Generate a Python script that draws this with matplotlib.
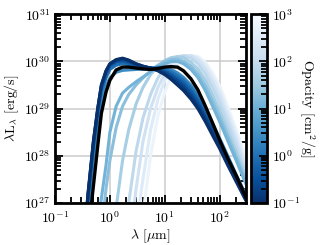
import numpy as np
import matplotlib
matplotlib.use("Agg")
import matplotlib.pyplot as plt
from matplotlib.colors import LogNorm
from matplotlib.cm import ScalarMappable

plt.rcParams['font.family'] = 'serif'
plt.rcParams['font.serif'] = ['cmr10', 'DejaVu Serif']
plt.rcParams['mathtext.fontset'] = 'cm'
plt.rcParams['axes.formatter.use_mathtext'] = True
plt.rcParams['font.size'] = 10

# wavelength grid (micron)
wavelength = [0.3, 0.4, 0.5, 0.6, 0.7, 0.85, 1.0, 1.3, 1.7, 2.2, 3.0, 4.0, 5.5, 7.5,
              10, 13, 17, 22, 30, 40, 55, 75, 100, 140, 200, 300]

# opacities (cm^2/g) of the coloured models
opacities = [0.1, 0.15, 0.25, 0.5, 1.0, 2.5, 12, 20, 40, 80, 150, 300, 600]

# log10(lambda L_lambda) [erg/s] for each model
logL_models = [
    [25.5, 27.2, 28.3, 29.0, 29.5, 29.8, 29.95, 30.04, 30.07, 30.03, 29.95, 29.9, 29.86, 29.8,
     29.72, 29.62, 29.5, 29.38, 29.2, 29.0, 28.72, 28.42, 28.15, 27.8, 27.45, 27.05],
    [25.5, 27.2, 28.3, 29.0, 29.5, 29.8, 29.95, 30.03, 30.06, 30.02, 29.95, 29.9, 29.86, 29.81,
     29.74, 29.65, 29.54, 29.42, 29.24, 29.04, 28.76, 28.46, 28.19, 27.83, 27.48, 27.07],
    [25.5, 27.15, 28.25, 28.97, 29.47, 29.77, 29.93, 30.01, 30.04, 30.0, 29.93, 29.89, 29.86, 29.83,
     29.77, 29.69, 29.59, 29.48, 29.3, 29.1, 28.82, 28.52, 28.24, 27.88, 27.52, 27.1],
    [25.4, 27.1, 28.2, 28.93, 29.43, 29.73, 29.9, 29.98, 30.0, 29.97, 29.91, 29.88, 29.86, 29.84,
     29.8, 29.73, 29.64, 29.54, 29.37, 29.17, 28.88, 28.57, 28.28, 27.92, 27.55, 27.12],
    [25.3, 27.0, 28.1, 28.85, 29.35, 29.65, 29.83, 29.92, 29.95, 29.93, 29.89, 29.87, 29.86, 29.86,
     29.83, 29.78, 29.7, 29.6, 29.44, 29.24, 28.95, 28.63, 28.33, 27.96, 27.58, 27.15],
    [25.0, 26.8, 27.9, 28.65, 29.15, 29.48, 29.65, 29.77, 29.81, 29.82, 29.83, 29.84, 29.86, 29.88,
     29.87, 29.83, 29.76, 29.66, 29.5, 29.3, 29.0, 28.68, 28.37, 28.0, 27.6, 27.17],
    [22.0, 24.2, 25.6, 26.5, 27.1, 27.8, 28.5, 29.05, 29.33, 29.45, 29.57, 29.67, 29.78, 29.88,
     29.95, 30.0, 30.0, 29.95, 29.83, 29.66, 29.38, 29.04, 28.72, 28.32, 27.9, 27.4],
    [21.0, 22.8, 24.3, 25.5, 26.4, 27.3, 27.9, 28.6, 29.05, 29.3, 29.5, 29.65, 29.8, 29.92,
     30.0, 30.04, 30.05, 30.0, 29.9, 29.74, 29.48, 29.15, 28.83, 28.42, 27.98, 27.47],
    [18.0, 20.0, 21.5, 22.7, 23.6, 24.6, 25.5, 26.9, 27.9, 28.55, 29.1, 29.45, 29.72, 29.9,
     30.02, 30.08, 30.1, 30.08, 29.98, 29.84, 29.6, 29.28, 28.96, 28.53, 28.07, 27.55],
    [15.0, 16.0, 17.0, 18.0, 19.0, 20.5, 22.0, 24.0, 25.7, 27.0, 28.1, 28.8, 29.3, 29.65,
     29.88, 30.02, 30.1, 30.12, 30.07, 29.95, 29.73, 29.43, 29.12, 28.68, 28.2, 27.62],
    [15.0, 16.0, 17.0, 18.0, 19.0, 20.0, 21.0, 22.5, 24.3, 26.0, 27.3, 28.3, 29.0, 29.45,
     29.75, 29.95, 30.07, 30.12, 30.12, 30.03, 29.83, 29.55, 29.25, 28.8, 28.32, 27.72],
    [15.0, 16.0, 17.0, 18.0, 19.0, 20.0, 21.0, 22.0, 23.0, 24.5, 26.5, 27.5, 28.55, 29.2,
     29.6, 29.85, 30.02, 30.1, 30.13, 30.08, 29.92, 29.66, 29.38, 28.93, 28.43, 27.82],
    [15.0, 16.0, 17.0, 18.0, 19.0, 20.0, 21.0, 22.0, 23.0, 24.0, 25.5, 26.75, 28.0, 28.85,
     29.35, 29.68, 29.92, 30.05, 30.12, 30.11, 29.98, 29.75, 29.48, 29.05, 28.55, 27.95],
]

# log10(lambda L_lambda) of the reference (black) model
logL_reference = [24.5, 26.3, 27.35, 28.2, 28.9, 29.35, 29.6, 29.82, 29.88, 29.88, 29.86, 29.84, 29.83, 29.85,
                  29.88, 29.89, 29.88, 29.8, 29.63, 29.4, 29.05, 28.68, 28.33, 27.95, 27.58, 27.12]

fig = plt.figure(figsize=(3.31, 2.45), dpi=100)
ax = fig.add_axes([0.166, 0.171, 0.577, 0.771])
cax = fig.add_axes([0.758, 0.171, 0.048, 0.771])

norm = LogNorm(vmin=0.1, vmax=1000)
cmap = plt.get_cmap('Blues_r')

lam = np.array(wavelength)
for k, lg in reversed(list(zip(opacities, logL_models))):
    ax.plot(lam, 10 ** np.array(lg), color=cmap(norm(k)), lw=2.2,
            solid_capstyle='round', solid_joinstyle='round', zorder=2)
ax.plot(lam, 10 ** np.array(logL_reference), color='black', lw=2.4,
        solid_joinstyle='round', zorder=3)

ax.set_xscale('log')
ax.set_yscale('log')
ax.set_xlim(0.1, 300)
ax.set_ylim(1e27, 1e31)
ax.grid(True, which='major', color='#cccccc', lw=1.1, zorder=0)
ax.set_axisbelow(True)
for s in ax.spines.values():
    s.set_linewidth(2.0)
ax.tick_params(which='both', direction='in', top=True, right=True, width=1.3)
ax.tick_params(which='major', length=6)
ax.tick_params(which='minor', length=4)
ax.tick_params(axis='x', which='major', pad=5)
ax.set_xlabel(r'$\lambda$ [$\mu$m]', labelpad=1)
ax.set_ylabel(r'$\lambda\mathrm{L}_\lambda$ [erg/s]', labelpad=2)

sm = ScalarMappable(norm=norm, cmap=cmap)
cb = fig.colorbar(sm, cax=cax)
cb.outline.set_linewidth(2.0)
cax.tick_params(which='both', direction='in', width=1.3)
cax.tick_params(which='major', length=6)
cax.tick_params(which='minor', length=4)
cb.set_label(r'Opacity [cm$^2$/g]', rotation=270, labelpad=12)

fig.savefig('out.png', dpi=100)
